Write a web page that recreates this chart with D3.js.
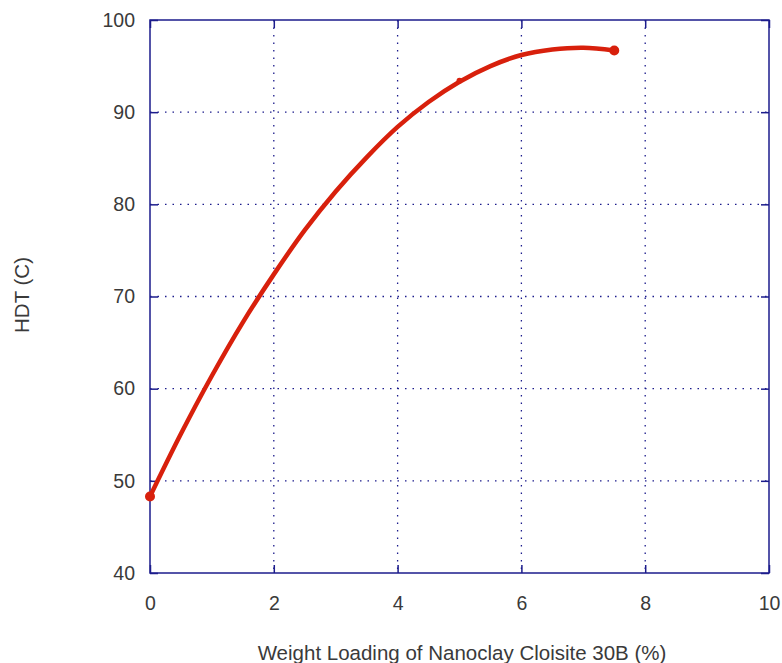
<!DOCTYPE html>
<html>
<head>
<meta charset="utf-8">
<script src="https://cdn.jsdelivr.net/npm/d3@7"></script>
<style>
  html, body { margin: 0; padding: 0; background: #ffffff; }
  svg { display: block; }
</style>
</head>
<body>
<svg id="chart" width="782" height="663"></svg>
<script>
// Measured data points (markers)
const pointX = [0, 5, 7.5];
const pointY = [48.3, 93.4, 96.7];

// Fitted curve, values
const curveX = [0, 0.5, 1, 1.5, 2, 2.5, 3, 3.5, 4, 4.5, 5, 5.5, 6, 6.5, 7, 7.5];
const curveY = [48.3, 55.1, 61.4, 67.2, 72.4, 77.2, 81.4, 85.1, 88.4, 91.1, 93.3, 95.0, 96.2, 96.8, 97.0, 96.7];

const xTicks = [0, 2, 4, 6, 8, 10];
const yTicks = [40, 50, 60, 70, 80, 90, 100];

const xLabel = "Weight Loading of Nanoclay Cloisite 30B (%)";
const yLabel = "HDT (C)";

const svg = d3.select("#chart");
const mLeft = 150, mRight = 769, mTop = 20, mBottom = 573;
const frameColor = "#1c1c8c";
const textColor = "#3a3a3a";
const fontFam = "Arial, 'Liberation Sans', sans-serif";

const x = d3.scaleLinear().domain([0, 10]).range([mLeft, mRight]);
const y = d3.scaleLinear().domain([40, 100]).range([mBottom, mTop]);

// Grid lines
const grid = svg.append("g");
grid.selectAll("line.gx").data(xTicks.filter(d => d > 0 && d < 10)).enter()
  .append("line")
  .attr("x1", d => x(d)).attr("x2", d => x(d))
  .attr("y1", mTop).attr("y2", mBottom)
  .attr("stroke", frameColor).attr("stroke-width", 1.3)
  .attr("stroke-dasharray", "1.5,6");
grid.selectAll("line.gy").data(yTicks.filter(d => d > 40 && d < 100)).enter()
  .append("line")
  .attr("y1", d => y(d)).attr("y2", d => y(d))
  .attr("x1", mLeft).attr("x2", mRight)
  .attr("stroke", frameColor).attr("stroke-width", 1.3)
  .attr("stroke-dasharray", "1.5,6");

// Axes with inward ticks
const xAxisB = d3.axisBottom(x).tickValues(xTicks).tickSize(-8).tickPadding(23).tickFormat(d3.format("d"));
const xAxisT = d3.axisTop(x).tickValues(xTicks).tickSize(-8).tickFormat("");
const yAxisL = d3.axisLeft(y).tickValues(yTicks).tickSize(-8).tickPadding(15).tickFormat(d3.format("d"));
const yAxisR = d3.axisRight(y).tickValues(yTicks).tickSize(-8).tickFormat("");

function styleAxis(g) {
  g.select(".domain").remove();
  g.selectAll(".tick line").attr("stroke", frameColor).attr("stroke-width", 1.5);
  g.selectAll(".tick text").attr("fill", textColor)
    .style("font-family", fontFam).style("font-size", "19.5px");
}
svg.append("g").attr("transform", `translate(0,${mBottom})`).call(xAxisB).call(styleAxis);
svg.append("g").attr("transform", `translate(0,${mTop})`).call(xAxisT).call(styleAxis);
svg.append("g").attr("transform", `translate(${mLeft},0)`).call(yAxisL).call(styleAxis);
svg.append("g").attr("transform", `translate(${mRight},0)`).call(yAxisR).call(styleAxis);

// Frame
svg.append("rect")
  .attr("x", mLeft).attr("y", mTop)
  .attr("width", mRight - mLeft).attr("height", mBottom - mTop)
  .attr("fill", "none").attr("stroke", frameColor).attr("stroke-width", 1.5);

// Curve
const line = d3.line().x(d => x(d[0])).y(d => y(d[1])).curve(d3.curveCatmullRom.alpha(0.5));
svg.append("path")
  .datum(curveX.map((v, i) => [v, curveY[i]]))
  .attr("d", line)
  .attr("fill", "none")
  .attr("stroke", "#d8200c")
  .attr("stroke-width", 4.5)
  .attr("stroke-linecap", "round");

// Markers
const markerSize = [5, 3, 5];
svg.selectAll("circle.pt").data(pointX.map((v, i) => [v, pointY[i], markerSize[i]])).enter()
  .append("circle")
  .attr("cx", d => x(d[0])).attr("cy", d => y(d[1]))
  .attr("r", d => d[2])
  .attr("fill", "#d8200c");

// Labels
svg.append("text")
  .attr("x", 462).attr("y", 660)
  .attr("text-anchor", "middle")
  .attr("fill", textColor)
  .style("font-family", fontFam).style("font-size", "20.5px")
  .text(xLabel);

svg.append("text")
  .attr("transform", `translate(29,295) rotate(-90)`)
  .attr("text-anchor", "middle")
  .attr("fill", textColor)
  .style("font-family", fontFam).style("font-size", "20.5px")
  .text(yLabel);
</script>
</body>
</html>
